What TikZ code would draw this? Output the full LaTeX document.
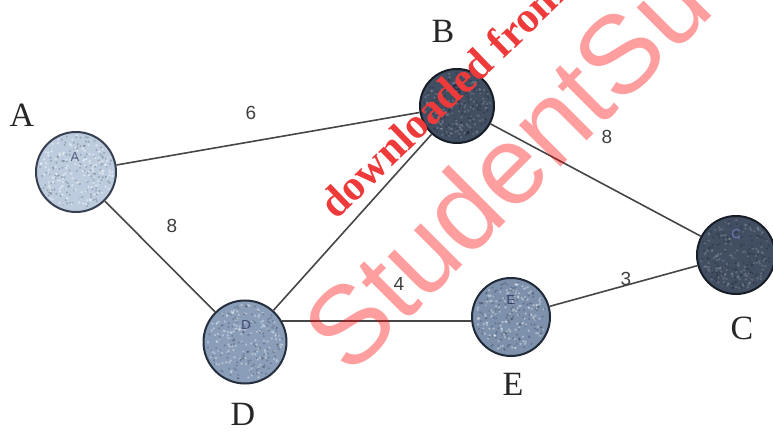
\documentclass[tikz,border=0pt]{standalone}
\usepackage{fontspec}
\setmainfont{Liberation Serif}
\newfontfamily\sansf{Liberation Sans}
\usetikzlibrary{calc}
\definecolor{edgecol}{RGB}{70,70,70}
\definecolor{wmred}{RGB}{238,58,58}
\definecolor{aIn}{RGB}{188,204,222}
\definecolor{aOut}{RGB}{115,133,156}
\definecolor{aEdge}{RGB}{55,64,80}
\definecolor{dIn}{RGB}{138,158,185}
\definecolor{dOut}{RGB}{82,100,126}
\definecolor{dEdge}{RGB}{38,47,62}
\definecolor{eIn}{RGB}{125,145,172}
\definecolor{eOut}{RGB}{68,86,112}
\definecolor{eEdge}{RGB}{32,42,56}
\definecolor{bIn}{RGB}{66,78,98}
\definecolor{bOut}{RGB}{38,47,62}
\definecolor{bEdge}{RGB}{24,30,40}
\pgfdeclareradialshading{ballA}{\pgfpoint{0bp}{0bp}}{color(0bp)=(aIn); color(30bp)=(aIn); color(46bp)=(aOut); color(50bp)=(aOut)}
\pgfdeclareradialshading{ballD}{\pgfpoint{0bp}{0bp}}{color(0bp)=(dIn); color(28bp)=(dIn); color(46bp)=(dOut); color(50bp)=(dOut)}
\pgfdeclareradialshading{ballE}{\pgfpoint{0bp}{0bp}}{color(0bp)=(eIn); color(26bp)=(eIn); color(46bp)=(eOut); color(50bp)=(eOut)}
\pgfdeclareradialshading{ballB}{\pgfpoint{0bp}{0bp}}{color(0bp)=(bIn); color(28bp)=(bIn); color(46bp)=(bOut); color(50bp)=(bOut)}
\begin{document}
\begin{tikzpicture}[x=1pt,y=-1pt,
  ball/.style={circle, inner sep=0pt, line width=2pt},
  lbl/.style={font=\fontsize{34}{34}\selectfont, inner sep=0pt, text=black!85},
  wt/.style={font=\sansf\fontsize{19}{19}\selectfont, inner sep=0pt, text=black!75},
  lnk/.style={draw=edgecol, line width=1.6pt},
  inl/.style={font=\sansf\fontsize{13}{13}\selectfont, inner sep=0pt, text=black!80!blue, text opacity=0.55}]
\useasboundingbox (0,0) rectangle (773,435);
\fill[white] (0,0) rectangle (773,435);
\clip (0,0) rectangle (773,435);

% nodes
\node[ball, minimum size=80pt, draw=aEdge, shading=ballA] (A) at (76,172) {};
\node[ball, minimum size=74pt, draw=bEdge, shading=ballB] (B) at (457,106) {};
\node[ball, minimum size=78pt, draw=bEdge, shading=ballB] (C) at (736,255) {};
\node[ball, minimum size=83pt, draw=dEdge, shading=ballD] (D) at (245,342) {};
\node[ball, minimum size=78pt, draw=eEdge, shading=ballE] (E) at (511,317) {};

% speckle texture
\pgfmathsetseed{42}
\foreach \n/\r/\o in {A/37/0.45,B/33/0.16,C/35/0.16,D/38/0.35,E/35/0.35}{
  \foreach \i in {1,...,140}{
    \pgfmathsetmacro{\ang}{360*rnd}
    \pgfmathsetmacro{\rad}{\r*sqrt(rnd)}
    \fill[white, opacity=\o] (\n.center) ++(\ang:\rad pt) circle (1.3pt);
    \pgfmathsetmacro{\angb}{360*rnd}
    \pgfmathsetmacro{\radb}{\r*sqrt(rnd)}
    \fill[black, opacity=0.2] (\n.center) ++(\angb:\radb pt) circle (1.1pt);
  }
}

% small letters inside circles
\node[inl] (iA) at (75,157) {A};
\node[inl] (iB) at (457,90) {B};
\node[inl, text=white!60!blue] (iC) at (736,234) {C};
\node[inl] (iD) at (246,325) {D};
\node[inl] (iE) at (511,300) {E};

% edges
\draw[lnk] (A) -- (B);
\draw[lnk] (A) -- (D);
\draw[lnk] (D) -- (B);
\draw[lnk] (B) -- (C);
\draw[lnk] (E) -- (C);
\draw[lnk] (D.30) -- (D.30 -| E.west);

% edge weights
\node[wt] (wAB) at (251,113) {6};
\node[wt] (wAD) at (172,226) {8};
\node[wt] (wBC) at (607,137) {8};
\node[wt] (wDE) at (399,284) {4};
\node[wt] (wEC) at (626,279) {3};

% node labels
\node[lbl] (lA) at (22,115) {A};
\node[lbl] (lB) at (443,31) {B};
\node[lbl] (lC) at (742,328) {C};
\node[lbl] (lD) at (243,414) {D};
\node[lbl] (lE) at (513,384) {E};

% watermark
\node[font=\sansf\fontsize{111}{111}\selectfont, text=red, text opacity=0.38,
      rotate=45, anchor=base west, inner sep=0pt] (wm2) at (350,378) {StudentSu};
\node[font=\bfseries\fontsize{43}{43}\selectfont, text=wmred,
      rotate=44, anchor=base west, inner sep=0pt] (wm1) at (336,221) {downloaded from};
\end{tikzpicture}
\end{document}
